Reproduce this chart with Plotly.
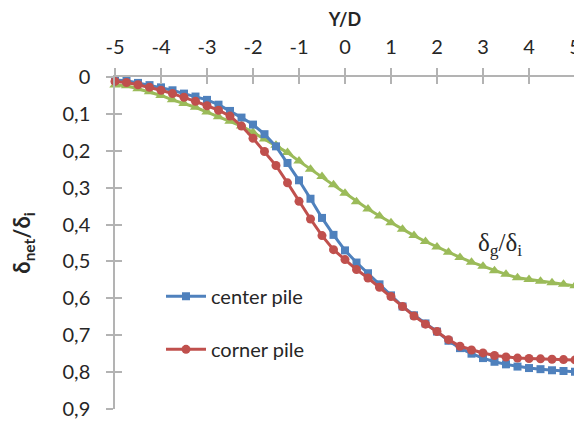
import plotly.graph_objects as go

yd = [-5 + 0.25 * i for i in range(41)]

center_pile = [0.008, 0.010, 0.016, 0.022, 0.028, 0.036, 0.045, 0.053, 0.062, 0.075,
               0.092, 0.110, 0.129, 0.155, 0.188, 0.233, 0.280, 0.330, 0.382, 0.428,
               0.470, 0.503, 0.532, 0.562, 0.592, 0.622, 0.646, 0.668, 0.690, 0.715,
               0.735, 0.750, 0.762, 0.772, 0.779, 0.785, 0.789, 0.792, 0.795, 0.797, 0.799]

corner_pile = [0.012, 0.015, 0.021, 0.028, 0.036, 0.045, 0.055, 0.066, 0.078, 0.090,
               0.106, 0.133, 0.166, 0.202, 0.240, 0.287, 0.337, 0.385, 0.430, 0.468,
               0.495, 0.522, 0.545, 0.570, 0.595, 0.622, 0.648, 0.670, 0.690, 0.712,
               0.730, 0.740, 0.748, 0.755, 0.759, 0.762, 0.763, 0.764, 0.765, 0.766, 0.767]

ground = [0.022, 0.024, 0.032, 0.040, 0.050, 0.062, 0.072, 0.082, 0.095, 0.108,
          0.120, 0.133, 0.150, 0.168, 0.185, 0.205, 0.228, 0.250, 0.270, 0.292,
          0.315, 0.338, 0.358, 0.377, 0.395, 0.413, 0.430, 0.446, 0.461, 0.475,
          0.489, 0.502, 0.513, 0.525, 0.535, 0.544, 0.549, 0.554, 0.558, 0.562, 0.566]

x_ticks = [-5, -4, -3, -2, -1, 0, 1, 2, 3, 4, 5]
x_ticktext = ["-5", "-4", "-3", "-2", "-1", "0", "1", "2", "3", "4", "5"]
y_ticks = [0, 0.1, 0.2, 0.3, 0.4, 0.5, 0.6, 0.7, 0.8, 0.9]
y_ticktext = ["0", "0,1", "0,2", "0,3", "0,4", "0,5", "0,6", "0,7", "0,8", "0,9"]

BLUE = "#4F81BD"
RED = "#C0504D"
GREEN = "#9BBB59"
AXIS = "#B3B3B3"
TXT = "#262626"
FONT = "Lato, 'Open Sans', sans-serif"

fig = go.Figure()
fig.add_trace(go.Scatter(x=yd, y=ground, mode="lines+markers", name="δg/δi",
                         line=dict(color=GREEN, width=3),
                         marker=dict(symbol="triangle-up", size=10, color=GREEN),
                         showlegend=False, cliponaxis=False))
fig.add_trace(go.Scatter(x=yd, y=center_pile, mode="lines+markers", name="center pile",
                         line=dict(color=BLUE, width=3),
                         marker=dict(symbol="square", size=8, color=BLUE),
                         legendgroup="a", cliponaxis=False))
fig.add_trace(go.Scatter(x=yd, y=corner_pile, mode="lines+markers", name="corner pile",
                         line=dict(color=RED, width=3),
                         marker=dict(symbol="circle", size=9, color=RED),
                         legendgroup="b", cliponaxis=False))
# dummy trace to activate overlay axes (for crossing tick marks)
fig.add_trace(go.Scatter(x=[None], y=[None], xaxis="x2", yaxis="y2",
                         showlegend=False, hoverinfo="skip"))

axis_common = dict(showgrid=False, zeroline=False, showline=True, automargin=False,
                   linecolor=AXIS, linewidth=1.5, tickcolor=AXIS, ticklen=7, tickwidth=1.5)

# page body has an 8px margin, so the figure is sized/offset to fit the 582x423 window
fig.update_layout(
    width=574, height=415,
    paper_bgcolor="white", plot_bgcolor="white",
    margin=dict(l=107, r=7, t=69, b=14, autoexpand=False),
    font=dict(family=FONT, size=20, color=TXT),
    xaxis=dict(range=[-5, 5], side="top", tickvals=x_ticks, ticktext=x_ticktext,
               ticks="outside", ticklabelstandoff=6, ticklabeloverflow="allow",
               title=dict(text="<b>Y/D</b>", font=dict(size=18), standoff=4),
               **axis_common),
    yaxis=dict(range=[0.9, 0], tickvals=y_ticks, ticktext=y_ticktext, ticks="outside",
               ticklabelstandoff=12, ticklabeloverflow="allow",
               title=dict(text="<b>δ<sub>net</sub>/δ<sub>i</sub></b>", font=dict(size=22), standoff=31),
               **axis_common),
    xaxis2=dict(range=[-5, 5], overlaying="x", side="top", tickvals=x_ticks, ticks="inside",
                showticklabels=False, **axis_common),
    yaxis2=dict(range=[0.9, 0], overlaying="y", side="left", tickvals=y_ticks, ticks="inside",
                showticklabels=False, **axis_common),
    legend=dict(x=0.10, y=0.398, xanchor="left", yanchor="top",
                bgcolor="rgba(0,0,0,0)", font=dict(size=20, color=TXT),
                tracegroupgap=24, traceorder="grouped", itemwidth=40),
    annotations=[dict(x=3.38, y=0.455, xref="x", yref="y", showarrow=False,
                      text="δ<sub>g</sub>/δ<sub>i</sub>",
                      font=dict(family="'Liberation Serif', serif", size=25, color=TXT))],
)

fig.write_html("out.html")
